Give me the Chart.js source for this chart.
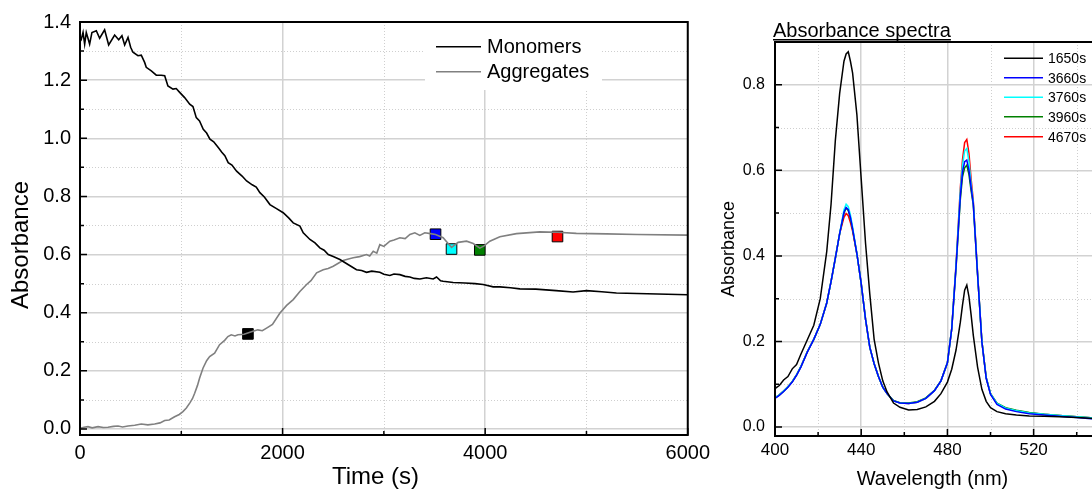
<!DOCTYPE html>
<html>
<head>
<meta charset="utf-8">
<title>Absorbance kinetics</title>
<script src="https://cdn.jsdelivr.net/npm/chart.js@4.4.1/dist/chart.umd.min.js"></script>
<style>
  html, body { margin: 0; padding: 0; background: #fff; overflow: hidden; width: 1092px; height: 490px; }
  #kinetics { position: absolute; left: 0; top: 0; }
  #spectra { position: absolute; left: 720px; top: 0; }
</style>
</head>
<body>
<canvas id="kinetics" width="718" height="490"></canvas>
<canvas id="spectra" width="420" height="490"></canvas>
<script>
// ---- kinetics: absorbance vs time ----
const monoTime = [0, 13, 30, 46, 62, 78, 95, 118, 161, 194, 243, 283, 342, 382, 414, 441, 474, 500, 523, 572, 605, 638, 654, 704, 753, 802, 836, 868, 918, 950, 984, 1033, 1083, 1115, 1148, 1180, 1217, 1250, 1283, 1320, 1365, 1400, 1430, 1463, 1500, 1546, 1600, 1645, 1700, 1740, 1776, 1820, 1875, 1940, 2006, 2060, 2105, 2171, 2204, 2270, 2320, 2368, 2410, 2451, 2500, 2566, 2650, 2730, 2780, 2829, 2880, 2960, 3000, 3059, 3100, 3158, 3210, 3257, 3300, 3355, 3420, 3487, 3520, 3560, 3585, 3684, 3800, 3900, 3980, 4079, 4145, 4250, 4342, 4500, 4700, 4868, 5000, 5150, 5296, 5600, 6000];
const monoAbs = [1.350, 1.341, 1.364, 1.324, 1.364, 1.345, 1.324, 1.364, 1.370, 1.344, 1.373, 1.321, 1.355, 1.339, 1.353, 1.321, 1.347, 1.313, 1.296, 1.284, 1.286, 1.261, 1.244, 1.232, 1.217, 1.217, 1.215, 1.180, 1.169, 1.171, 1.158, 1.140, 1.117, 1.109, 1.071, 1.060, 1.031, 1.018, 0.997, 0.988, 0.968, 0.952, 0.940, 0.916, 0.908, 0.887, 0.870, 0.853, 0.840, 0.832, 0.813, 0.798, 0.772, 0.758, 0.744, 0.726, 0.709, 0.698, 0.675, 0.652, 0.640, 0.623, 0.615, 0.600, 0.593, 0.583, 0.565, 0.548, 0.545, 0.539, 0.543, 0.539, 0.532, 0.528, 0.533, 0.531, 0.525, 0.523, 0.518, 0.516, 0.520, 0.516, 0.523, 0.510, 0.508, 0.504, 0.502, 0.500, 0.497, 0.489, 0.489, 0.486, 0.482, 0.481, 0.476, 0.471, 0.476, 0.472, 0.468, 0.465, 0.462];

const aggTime = [0, 40, 79, 120, 178, 230, 276, 330, 375, 420, 474, 540, 605, 670, 737, 790, 836, 880, 934, 980, 1016, 1050, 1083, 1110, 1132, 1160, 1181, 1214, 1250, 1280, 1329, 1378, 1428, 1460, 1493, 1530, 1559, 1620, 1700, 1756, 1800, 1842, 1900, 1974, 2040, 2105, 2171, 2237, 2280, 2336, 2401, 2450, 2500, 2550, 2598, 2650, 2697, 2760, 2829, 2860, 2895, 2930, 2960, 3000, 3059, 3100, 3158, 3210, 3257, 3306, 3355, 3404, 3460, 3510, 3585, 3630, 3668, 3733, 3816, 3882, 3947, 3990, 4046, 4145, 4309, 4539, 4714, 4900, 5197, 5500, 6000];
const aggAbs = [0.002, 0.006, 0.008, 0.004, 0.008, 0.005, 0.006, 0.009, 0.010, 0.007, 0.010, 0.013, 0.017, 0.014, 0.017, 0.021, 0.029, 0.031, 0.042, 0.050, 0.060, 0.072, 0.089, 0.104, 0.123, 0.150, 0.175, 0.209, 0.235, 0.249, 0.261, 0.290, 0.305, 0.318, 0.324, 0.320, 0.324, 0.326, 0.335, 0.341, 0.338, 0.347, 0.360, 0.399, 0.425, 0.445, 0.473, 0.497, 0.510, 0.537, 0.548, 0.552, 0.560, 0.570, 0.580, 0.585, 0.589, 0.593, 0.600, 0.595, 0.611, 0.605, 0.634, 0.628, 0.646, 0.650, 0.658, 0.655, 0.669, 0.675, 0.666, 0.675, 0.672, 0.669, 0.658, 0.640, 0.625, 0.642, 0.646, 0.638, 0.622, 0.630, 0.646, 0.661, 0.672, 0.678, 0.677, 0.673, 0.671, 0.669, 0.667];

// spectra sampling times, marked on the aggregate trace
const markTime = [1658, 3510, 3668, 3947, 4714];
const markAbs = [0.327, 0.670, 0.619, 0.616, 0.662];
const markColors = ['#000000', '#0000ff', '#00ffff', '#008000', '#ff0000'];

const traceNames = ['Monomers', 'Aggregates'];
const timeTicks = [0, 2000, 4000, 6000];
const timeMinor = [1000, 3000, 5000];
const absTicks = [0, 0.2, 0.4, 0.6, 0.8, 1.0, 1.2, 1.4];
const absMinor = [0.1, 0.3, 0.5, 0.7, 0.9, 1.1, 1.3];

// ---- spectra ----
const wavelengths = [400, 402, 404, 406, 408, 410, 412, 415, 418, 421, 424, 426, 428, 430, 432, 433, 434, 435, 436, 438, 440, 442, 444, 446, 448, 450, 452, 455, 458, 462, 466, 470, 474, 477, 480, 482, 484, 486, 487, 488, 489, 490, 491, 492, 494, 496, 498, 500, 503, 507, 512, 518, 525, 532, 540, 548, 556, 560];
const spec1650 = [0.090, 0.097, 0.110, 0.118, 0.136, 0.146, 0.170, 0.204, 0.238, 0.300, 0.410, 0.520, 0.670, 0.780, 0.855, 0.872, 0.877, 0.855, 0.828, 0.730, 0.580, 0.430, 0.310, 0.205, 0.150, 0.108, 0.082, 0.056, 0.046, 0.040, 0.041, 0.047, 0.060, 0.078, 0.105, 0.135, 0.180, 0.245, 0.285, 0.320, 0.332, 0.305, 0.262, 0.215, 0.140, 0.088, 0.060, 0.045, 0.036, 0.031, 0.028, 0.026, 0.025, 0.024, 0.022, 0.020, 0.019, 0.018];
const spec3660 = [0.067, 0.074, 0.083, 0.093, 0.105, 0.121, 0.140, 0.175, 0.205, 0.240, 0.290, 0.340, 0.395, 0.452, 0.502, 0.513, 0.508, 0.490, 0.464, 0.405, 0.335, 0.252, 0.186, 0.148, 0.118, 0.093, 0.078, 0.061, 0.056, 0.055, 0.058, 0.067, 0.085, 0.108, 0.150, 0.229, 0.374, 0.540, 0.596, 0.620, 0.624, 0.600, 0.560, 0.522, 0.356, 0.199, 0.114, 0.076, 0.053, 0.042, 0.036, 0.031, 0.028, 0.025, 0.022, 0.019, 0.017, 0.016];
const spec3760 = [0.068, 0.075, 0.084, 0.094, 0.106, 0.122, 0.141, 0.176, 0.205, 0.240, 0.290, 0.340, 0.395, 0.452, 0.508, 0.521, 0.515, 0.496, 0.468, 0.405, 0.335, 0.252, 0.186, 0.148, 0.118, 0.093, 0.078, 0.061, 0.056, 0.055, 0.058, 0.067, 0.085, 0.108, 0.150, 0.230, 0.378, 0.552, 0.612, 0.645, 0.651, 0.620, 0.568, 0.526, 0.358, 0.200, 0.115, 0.078, 0.055, 0.044, 0.038, 0.033, 0.030, 0.027, 0.024, 0.021, 0.019, 0.018];
const spec3960 = [0.068, 0.075, 0.084, 0.094, 0.106, 0.122, 0.141, 0.176, 0.205, 0.240, 0.290, 0.340, 0.395, 0.452, 0.500, 0.512, 0.506, 0.488, 0.462, 0.405, 0.335, 0.252, 0.186, 0.148, 0.118, 0.093, 0.078, 0.062, 0.057, 0.056, 0.059, 0.068, 0.086, 0.108, 0.150, 0.229, 0.372, 0.532, 0.585, 0.606, 0.612, 0.590, 0.552, 0.520, 0.356, 0.200, 0.115, 0.078, 0.056, 0.045, 0.039, 0.034, 0.030, 0.027, 0.024, 0.021, 0.019, 0.018];
const spec4670 = [0.068, 0.075, 0.084, 0.094, 0.106, 0.122, 0.141, 0.176, 0.205, 0.240, 0.290, 0.340, 0.395, 0.452, 0.490, 0.499, 0.494, 0.478, 0.458, 0.405, 0.335, 0.252, 0.186, 0.148, 0.118, 0.093, 0.078, 0.061, 0.056, 0.055, 0.058, 0.067, 0.085, 0.108, 0.150, 0.230, 0.380, 0.560, 0.625, 0.665, 0.672, 0.640, 0.580, 0.530, 0.360, 0.200, 0.115, 0.078, 0.055, 0.044, 0.038, 0.033, 0.030, 0.027, 0.024, 0.021, 0.019, 0.018];
const spectraNames = ['1650s', '3660s', '3760s', '3960s', '4670s'];
const spectraColors = ['#000000', '#0000ff', '#00ffff', '#008000', '#ff0000'];
const wlTicks = [400, 440, 480, 520, 560];
const wlMinor = [420, 460, 500, 540];
const specTicks = [0, 0.2, 0.4, 0.6, 0.8];
const specMinor = [0.1, 0.3, 0.5, 0.7];

const FONT = '"Liberation Sans", Arial, sans-serif';

function pairs(xs, ys) {
    return xs.map((x, i) => ({ x: x, y: ys[i] }));
}

// dotted minor grid, inward ticks, closed frame, legend and axis titles
const framePlugin = {
    id: 'frame',
    beforeDatasetsDraw(chart, args, o) {
        const { ctx, chartArea: a } = chart;
        const xs = chart.scales.x, ys = chart.scales.y;
        ctx.save();
        ctx.strokeStyle = '#cfcfcf';
        ctx.lineWidth = 1;
        ctx.setLineDash([1, 2]);
        ctx.beginPath();
        o.xMinor.forEach(v => {
            const p = Math.round(xs.getPixelForValue(v)) + 0.5;
            ctx.moveTo(p, a.top); ctx.lineTo(p, a.bottom);
        });
        o.yMinor.forEach(v => {
            const p = Math.round(ys.getPixelForValue(v)) + 0.5;
            ctx.moveTo(a.left, p); ctx.lineTo(a.right, p);
        });
        ctx.stroke();
        ctx.restore();
    },
    afterDatasetsDraw(chart, args, o) {
        const { ctx, chartArea: a } = chart;
        const xs = chart.scales.x, ys = chart.scales.y;
        const lg = o.legend;
        ctx.save();
        if (lg.box) {
            ctx.fillStyle = '#fff';
            ctx.fillRect(lg.box[0], lg.box[1], lg.box[2], lg.box[3]);
        }
        ctx.font = lg.font + 'px ' + FONT;
        ctx.textBaseline = 'middle';
        ctx.fillStyle = '#000';
        lg.labels.forEach((label, i) => {
            const y = lg.rows[i];
            ctx.strokeStyle = lg.colors[i];
            ctx.lineWidth = 1.5;
            ctx.beginPath();
            ctx.moveTo(lg.x0, y); ctx.lineTo(lg.x1, y);
            ctx.stroke();
            ctx.fillText(label, lg.tx, y + 1);
        });

        // inward tick marks
        ctx.strokeStyle = '#000';
        ctx.lineWidth = 1.5;
        ctx.beginPath();
        const xTick = (v, len) => {
            const p = xs.getPixelForValue(v);
            ctx.moveTo(p, a.bottom); ctx.lineTo(p, a.bottom - len);
        };
        const yTick = (v, len) => {
            const p = ys.getPixelForValue(v);
            ctx.moveTo(a.left, p); ctx.lineTo(a.left + len, p);
        };
        o.xMajor.forEach(v => xTick(v, 7));
        o.xMinor.forEach(v => xTick(v, 4));
        o.yMajor.forEach(v => yTick(v, 7));
        o.yMinor.forEach(v => yTick(v, 4));
        ctx.stroke();

        ctx.lineWidth = 2;
        ctx.strokeRect(a.left, a.top, a.right - a.left, a.bottom - a.top);

        // axis titles
        ctx.fillStyle = '#000';
        ctx.textAlign = 'center';
        ctx.textBaseline = 'middle';
        o.titles.forEach(t => {
            ctx.font = t.size + 'px ' + FONT;
            ctx.save();
            ctx.translate(t.x, t.y);
            if (t.vertical) ctx.rotate(-Math.PI / 2);
            ctx.fillText(t.text, 0, 0);
            ctx.restore();
        });
        if (o.heading) {
            const h = o.heading;
            ctx.font = h.size + 'px ' + FONT;
            ctx.textAlign = 'left';
            ctx.textBaseline = 'alphabetic';
            ctx.fillText(h.text, h.x, h.y);
            const w = ctx.measureText(h.text).width;
            ctx.lineWidth = 1.5;
            ctx.beginPath();
            ctx.moveTo(h.x, h.y + 3); ctx.lineTo(h.x + w, h.y + 3);
            ctx.stroke();
        }
        ctx.restore();
    }
};

function linearAxis(min, max, tickValues, digits, fontSize, pad, fit) {
    return {
        type: 'linear',
        min: min,
        max: max,
        afterBuildTicks: s => { s.ticks = tickValues.map(v => ({ value: v })); },
        afterFit: fit,
        border: { display: false },
        grid: { color: '#d2d2d2', lineWidth: 1.5, drawTicks: false },
        ticks: {
            color: '#000',
            padding: pad,
            font: { family: FONT, size: fontSize, lineHeight: 1 },
            callback: v => v.toFixed(digits)
        }
    };
}

new Chart(document.getElementById('kinetics'), {
    type: 'line',
    data: {
        datasets: [
            {
                label: traceNames[0],
                data: pairs(monoTime, monoAbs),
                borderColor: '#000',
                borderWidth: 1.6,
                pointRadius: 0
            },
            {
                label: traceNames[1],
                data: pairs(aggTime, aggAbs),
                borderColor: '#808080',
                borderWidth: 1.6,
                pointRadius: 0
            },
            {
                label: 'samples',
                data: pairs(markTime, markAbs),
                showLine: false,
                pointStyle: 'rect',
                pointRadius: 7.5,
                pointBackgroundColor: markColors,
                pointBorderColor: '#000',
                pointBorderWidth: 1
            }
        ]
    },
    options: {
        responsive: false,
        animation: false,
        events: [],
        layout: { autoPadding: false, padding: { left: 0, top: 22, right: 30, bottom: 0 } },
        scales: {
            x: linearAxis(0, 6000, timeTicks, 0, 20, 8, s => { s.height = 55; }),
            y: linearAxis(-0.0207, 1.4, absTicks, 1, 20, 9, s => { s.width = 80; })
        },
        plugins: {
            legend: { display: false },
            tooltip: { enabled: false },
            frame: {
                xMajor: timeTicks, xMinor: timeMinor, yMajor: absTicks, yMinor: absMinor,
                legend: {
                    box: [425, 23, 177, 67], x0: 436, x1: 481, tx: 487, rows: [46.7, 71.7], font: 20,
                    labels: traceNames, colors: ['#000', '#808080']
                },
                titles: [
                    { text: 'Absorbance', x: 21, y: 245, size: 24, vertical: true },
                    { text: 'Time (s)', x: 375.5, y: 477, size: 24 }
                ]
            }
        }
    },
    plugins: [framePlugin]
});

const spectraSeries = [spec1650, spec3660, spec3760, spec3960, spec4670];

new Chart(document.getElementById('spectra'), {
    type: 'line',
    data: {
        datasets: spectraSeries.map((s, i) => ({
            label: spectraNames[i],
            data: pairs(wavelengths, s),
            borderColor: spectraColors[i],
            borderWidth: 1.5,
            pointRadius: 0
        }))
    },
    options: {
        responsive: false,
        animation: false,
        events: [],
        layout: { autoPadding: false, padding: { left: 0, top: 42, right: 20, bottom: 0 } },
        scales: {
            x: linearAxis(400, 560, wlTicks, 0, 17, 6, s => { s.height = 54; }),
            y: linearAxis(-0.021, 0.9, specTicks, 1, 16, 10, s => { s.width = 55; })
        },
        plugins: {
            legend: { display: false },
            tooltip: { enabled: false },
            frame: {
                xMajor: wlTicks, xMinor: wlMinor, yMajor: specTicks, yMinor: specMinor,
                legend: {
                    box: null, x0: 284, x1: 323, tx: 328, rows: [58.3, 77.7, 97.3, 116.7, 136.7], font: 14,
                    labels: spectraNames, colors: spectraColors
                },
                titles: [
                    { text: 'Absorbance', x: 9, y: 249, size: 18, vertical: true },
                    { text: 'Wavelength (nm)', x: 212.5, y: 479, size: 20 }
                ],
                heading: { text: 'Absorbance spectra', x: 53, y: 36.7, size: 20 }
            }
        }
    },
    plugins: [framePlugin]
});
</script>
</body>
</html>
